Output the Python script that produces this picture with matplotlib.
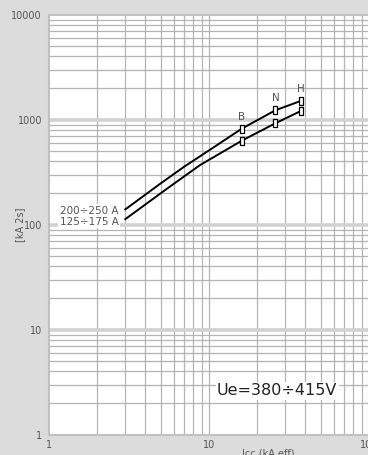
import matplotlib
matplotlib.use("Agg")
import matplotlib.pyplot as plt
import numpy as np
from matplotlib.path import Path

# Data
x_upper = [3, 5, 7, 10, 16, 26, 37.5]
y_upper = [140, 248, 357, 510, 820, 1230, 1510]
x_lower = [3, 5.5, 8.8, 16, 26, 37.5]
y_lower = [113, 222, 370, 630, 925, 1210]
marker_x = [16, 26, 37.5]
marker_upper = [820, 1230, 1510]
marker_lower = [630, 925, 1210]
marker_labels = ["B", "N", "H"]
series_labels = ["200÷250 A", "125÷175 A"]
x_ticks = [1, 10, 100]
x_ticklabels = ["1", "10", "100"]
y_ticks = [1, 10, 100, 1000, 10000]
y_ticklabels = ["1", "10", "100", "1000", "10000"]

W, H = 368, 455
fig = plt.figure(figsize=(W / 100, H / 100), dpi=100, facecolor="#dcdcdc")
ax = fig.add_axes([49 / W, (H - 434.7) / H, (369 - 49) / W, (434.7 - 14.7) / H])
ax.set_facecolor("white")
ax.set_xscale("log")
ax.set_yscale("log")
ax.set_xlim(1, 100)
ax.set_ylim(1, 10000)

# grid
minor_x = [k * 10 ** d for d in range(0, 2) for k in range(2, 10)]
minor_y = [k * 10 ** d for d in range(0, 4) for k in range(2, 10)]
for v in minor_x + [10]:
    ax.axvline(v, color="#b4b4b4", lw=0.9, zorder=1)
for v in minor_y:
    ax.axhline(v, color="#b4b4b4", lw=0.9, zorder=1)
for v in [10, 100, 1000]:
    ax.axhline(v, color="#d2d2d2", lw=2.6, zorder=1)

for s in ax.spines.values():
    s.set_color("#c0c0c0")
    s.set_linewidth(1.5)

ax.plot(x_upper, y_upper, color="black", lw=1.4, zorder=3, solid_joinstyle="round")
ax.plot(x_lower, y_lower, color="black", lw=1.4, zorder=3, solid_joinstyle="round")

rect = Path([(-0.45, -1), (0.45, -1), (0.45, 1), (-0.45, 1), (-0.45, -1)],
            [Path.MOVETO, Path.LINETO, Path.LINETO, Path.LINETO, Path.CLOSEPOLY])
for ys in (marker_upper, marker_lower):
    ax.plot(marker_x, ys, linestyle="none", marker=rect, markersize=6,
            markerfacecolor="white", markeredgecolor="black", markeredgewidth=0.9, zorder=4)
for xv, yv, lab in zip(marker_x, marker_upper, marker_labels):
    ax.annotate(lab, (xv, yv), xytext=(0, 5), textcoords="offset points",
                ha="center", va="bottom", fontsize=7.5, color="#555555", zorder=5)

bbox = dict(facecolor="white", edgecolor="none", pad=1.0)
ax.annotate(series_labels[0], (x_upper[0], y_upper[0]), xytext=(-5, -1), textcoords="offset points",
            ha="right", va="center", fontsize=7.5, color="#555555", bbox=bbox, zorder=5)
ax.annotate(series_labels[1], (x_lower[0], y_lower[0]), xytext=(-5, -2), textcoords="offset points",
            ha="right", va="center", fontsize=7.5, color="#555555", bbox=bbox, zorder=5)

ax.text(0.525, 0.105, "Ue=380÷415V", transform=ax.transAxes, fontsize=11.5,
        color="#222222", ha="left", va="center", zorder=5,
        bbox=dict(facecolor="white", edgecolor="none", pad=1.0))

ax.set_xticks(x_ticks)
ax.set_xticklabels(x_ticklabels)
ax.set_yticks(y_ticks)
ax.set_yticklabels(y_ticklabels)
ax.minorticks_off()
ax.tick_params(length=0, labelsize=7, labelcolor="#555555", pad=5)
ax.tick_params(axis="x", pad=4)

fig.text(20 / W, 1 - 225 / H, "[kA 2s]", rotation=90, fontsize=7, color="#555555",
         ha="center", va="center")
fig.text(268 / W, 1 - 449 / H, "Icc (kA eff)", fontsize=7, color="#555555",
         ha="center", va="top")

fig.savefig("out.png", dpi=100, facecolor=fig.get_facecolor())
